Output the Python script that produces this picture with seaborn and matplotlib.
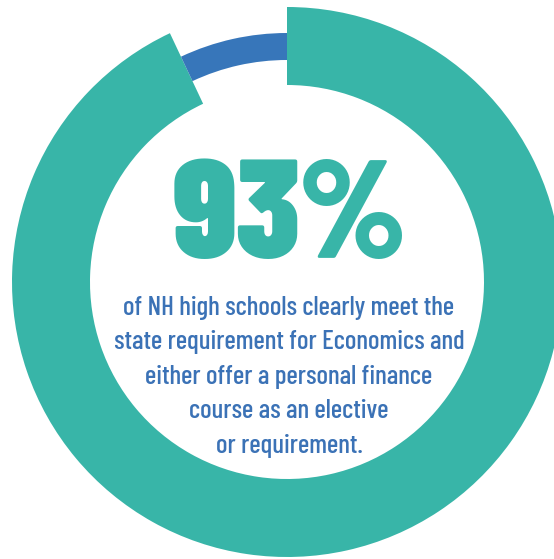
import matplotlib
matplotlib.use("Agg")
import matplotlib.pyplot as plt
import seaborn as sns

# ---- data ----
categories = ["Meet requirement", "Other"]
shares = [93, 7]
headline = "93%"
body_lines = [
    "of NH high schools clearly meet the",
    "state requirement for Economics and",
    "either offer a personal finance",
    "course as an elective",
    "or requirement.",
]

TEAL = "#38B5A8"
BLUE = "#3776BA"
TEXT_BLUE = "#3B72B6"

sns.set_theme(style="white")
plt.rcParams['font.family'] = ['Barlow Condensed', 'DejaVu Sans']

W, H = 554, 559
fig = plt.figure(figsize=(W / 100, H / 100), dpi=100)
ax = fig.add_axes([0, 0, 1, 1])

cx, cy = 287, H - 282
r_out, r_in = 275, 197
b_out, b_in = 249, 222

# thick teal ring for the main share
ax.pie(shares, radius=r_out, center=(cx, cy), startangle=90, counterclock=False,
       colors=[TEAL, "none"], wedgeprops=dict(width=r_out - r_in, linewidth=0),
       frame=True)
# thin blue arc for the remainder
ax.pie(shares, radius=b_out, center=(cx, cy), startangle=90, counterclock=False,
       colors=["none", BLUE], wedgeprops=dict(width=b_out - b_in, linewidth=0),
       frame=True)

ax.set_xlim(0, W)
ax.set_ylim(0, H)
ax.set_aspect("auto")
ax.axis("off")

ax.text(289, H - 258, headline, ha="center", va="baseline", color=TEAL,
        fontsize=101, fontweight=900)

baselines = [315, 349.5, 384, 418.5, 453]
for line, yb in zip(body_lines, baselines):
    ax.text(289, H - yb, line, ha="center", va="baseline", color=TEXT_BLUE,
            fontsize=19.5, fontweight=500)

fig.savefig("out.png", dpi=100)
